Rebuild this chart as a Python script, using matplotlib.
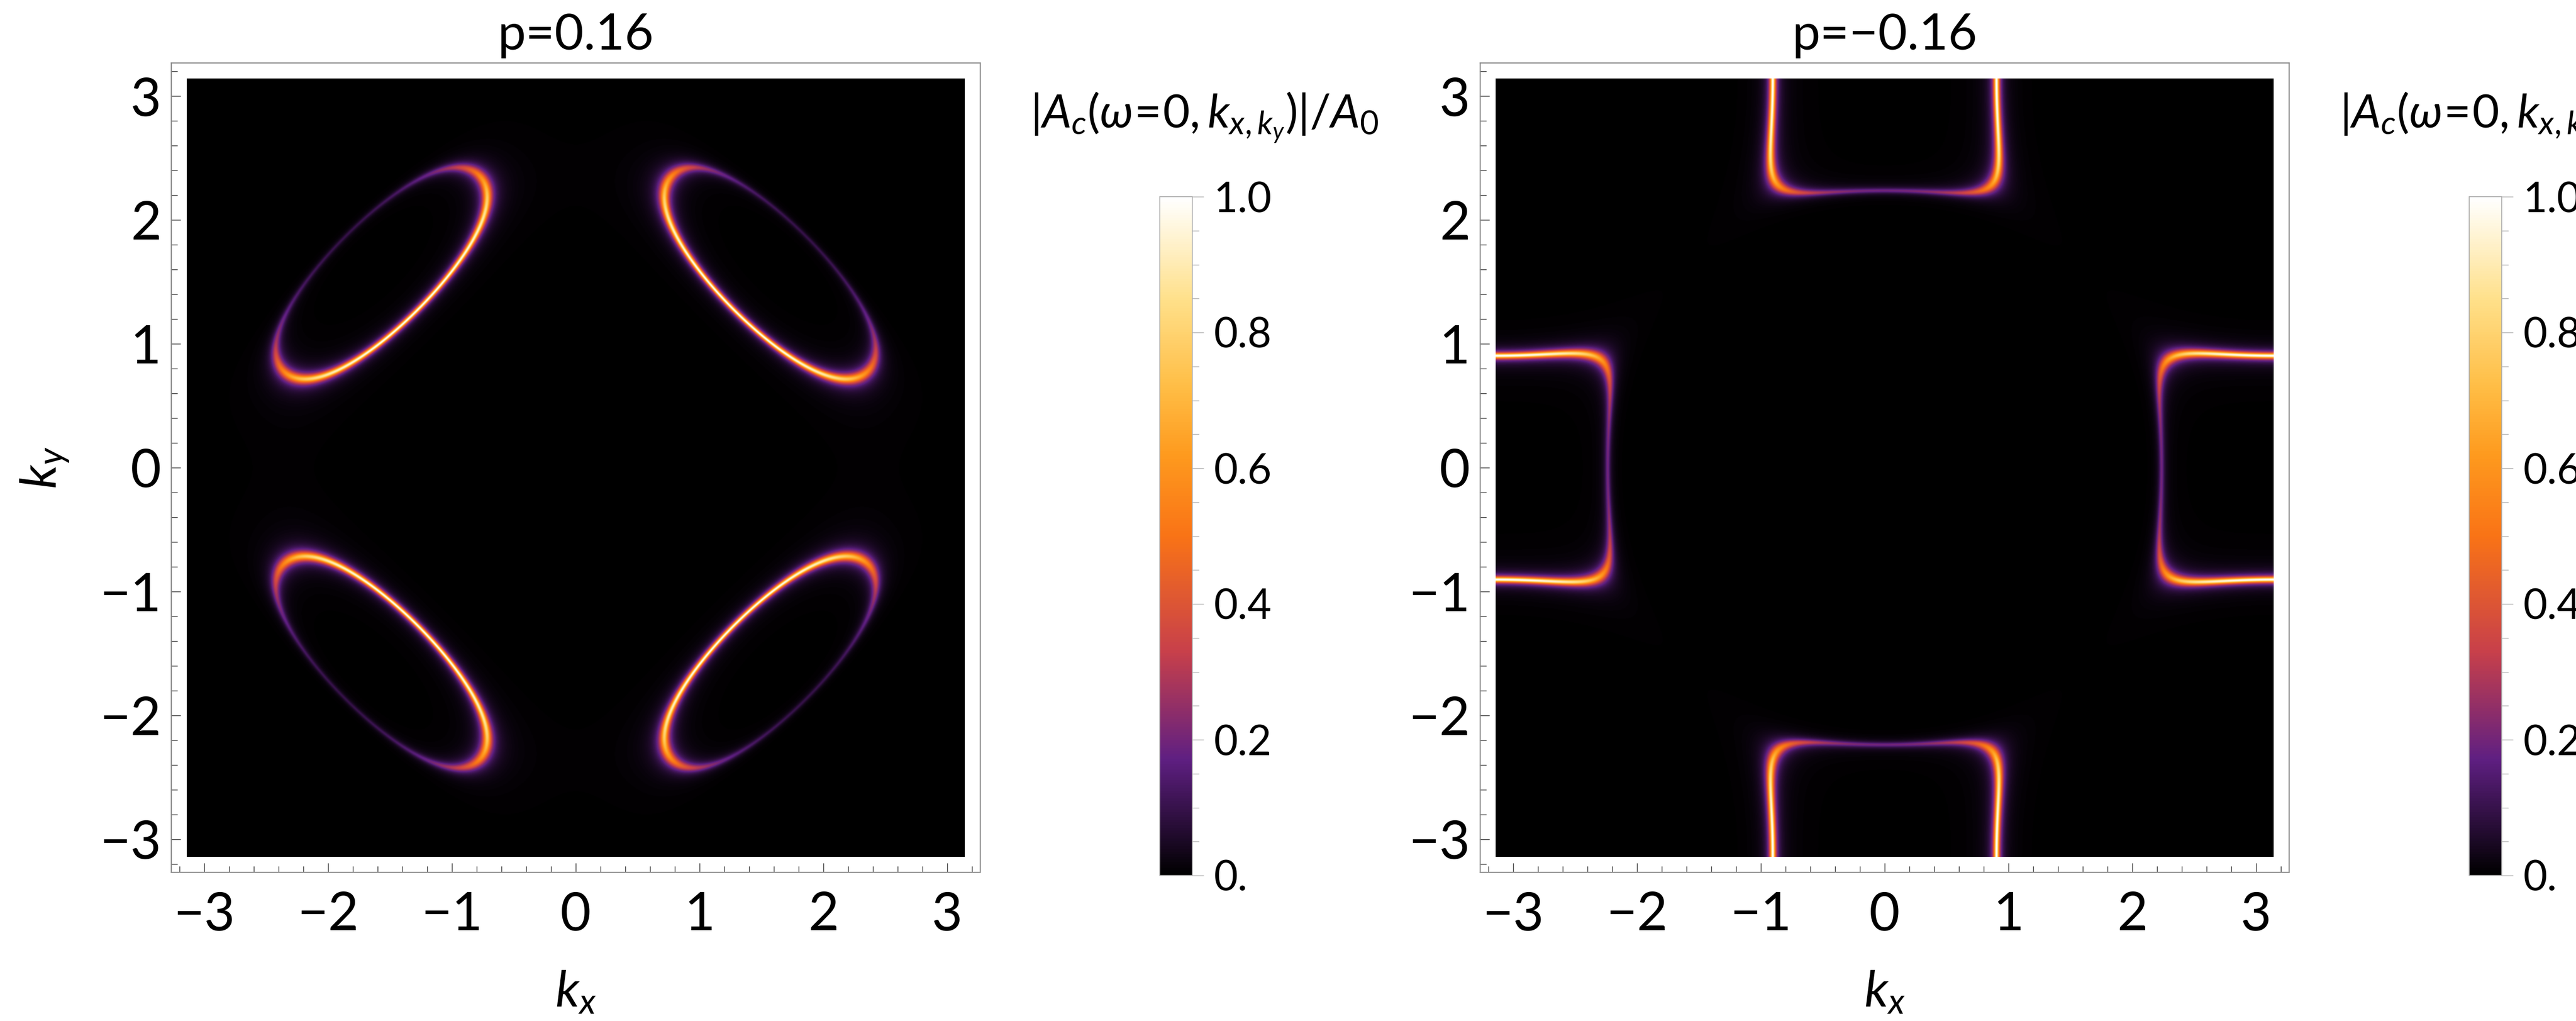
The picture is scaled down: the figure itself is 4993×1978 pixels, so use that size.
import numpy as np
import matplotlib
matplotlib.use("Agg")
import matplotlib.pyplot as plt
from matplotlib.colors import LinearSegmentedColormap
from matplotlib.ticker import MultipleLocator, FixedLocator

plt.rcParams["font.family"] = ["Lato", "DejaVu Sans"]
plt.rcParams["mathtext.fontset"] = "custom"
plt.rcParams["mathtext.rm"] = "Lato"
plt.rcParams["mathtext.it"] = "Lato:italic"

# model: t, t', t'' hoppings, one panel per doping
HOPPING = [1.0, -0.13, 0.09]
DOPING = [0.16, -0.16]
CHEM_POT = [-1.066, 0.683]
HYBRID = [0.80, 0.85]
BROADENING = 0.035
N_K = 1500

# colour scale (Mathematica-like sunset)
CMAP_POS = [0.0, 0.17, 0.33, 0.5, 0.62, 0.72, 0.85, 1.0]
CMAP_RGB = ["#000000", "#5f1f82", "#c8404a", "#f97316", "#fe9a1e",
            "#ffbd45", "#ffe08a", "#ffffff"]

K_TICKS = [-3, -2, -1, 0, 1, 2, 3]
CBAR_TICKS = [0.0, 0.2, 0.4, 0.6, 0.8, 1.0]
CBAR_LABELS = ["0.", "0.2", "0.4", "0.6", "0.8", "1.0"]
CBAR_LABEL = r"$|A_c(\omega\!=\!0,k_{x,k_y})|/A_0$"

W, H = 4993, 1978
AX_LEFT = [332, 2869]
CB_LEFT = [2248, 4786]


def spectral(mu, phi):
    t, tp, tpp = HOPPING
    k = np.linspace(-np.pi, np.pi, N_K)
    kx, ky = np.meshgrid(k, k)
    cx, cy = np.cos(kx), np.cos(ky)
    a = -2 * t * (cx + cy)
    b = -4 * tp * cx * cy - 2 * tpp * (np.cos(2 * kx) + np.cos(2 * ky)) - mu
    z = 1j * BROADENING
    g = 1.0 / (z - (a + b) - phi ** 2 / (z - (b - a)))
    A = -g.imag / np.pi
    return A / A.max()


cmap = LinearSegmentedColormap.from_list("sunset", list(zip(CMAP_POS, CMAP_RGB)))

fig = plt.figure(figsize=(W / 100, H / 100), dpi=100)
frame_col = "#8c8c8c"
pad = np.pi * 0.04

for i, p in enumerate(DOPING):
    x0 = AX_LEFT[i] / W
    ax = fig.add_axes([x0, (H - 1690) / H, 1568 / W, 1568 / H])
    A = spectral(CHEM_POT[i], HYBRID[i])
    im = ax.imshow(A, origin="lower", extent=[-np.pi, np.pi, -np.pi, np.pi],
                   cmap=cmap, vmin=0, vmax=1, interpolation="bilinear",
                   aspect="auto")
    ax.set_xlim(-np.pi - pad, np.pi + pad)
    ax.set_ylim(-np.pi - pad, np.pi + pad)
    for s in ax.spines.values():
        s.set_color(frame_col)
        s.set_linewidth(1.6)
    ax.xaxis.set_major_locator(FixedLocator(K_TICKS))
    ax.yaxis.set_major_locator(FixedLocator(K_TICKS))
    ax.xaxis.set_minor_locator(MultipleLocator(0.2))
    ax.yaxis.set_minor_locator(MultipleLocator(0.2))
    ax.tick_params(which="both", direction="in", top=False, right=False,
                   color="#333333", width=1.0)
    ax.tick_params(which="major", length=13, labelsize=74)
    ax.tick_params(which="minor", length=8.5)
    ax.tick_params(axis="x", pad=26)
    ax.tick_params(axis="y", pad=14)

    title = f"p={p:g}".replace("-", "\u2212")
    ax.text(0.5, 1.034, title, transform=ax.transAxes, ha="center",
            va="center", fontsize=70)
    ax.text(0.5, -0.148, r"$k_x$", transform=ax.transAxes, ha="center",
            va="center", fontsize=70)
    if i == 0:
        ax.text(-0.156, 0.5, r"$k_y$", transform=ax.transAxes, ha="center",
                va="center", fontsize=70, rotation=90)

    cax = fig.add_axes([CB_LEFT[i] / W, (H - 1696) / H, 63 / W, (1696 - 381) / H])
    cb = fig.colorbar(im, cax=cax)
    cb.outline.set_edgecolor("#aaaaaa")
    cb.outline.set_linewidth(1.2)
    cb.set_ticks(CBAR_TICKS)
    cb.set_ticklabels(CBAR_LABELS)
    cax.yaxis.set_minor_locator(MultipleLocator(0.05))
    cax.tick_params(which="both", direction="out", color="#b0b0b0", width=1.0)
    cax.tick_params(which="major", length=16, labelsize=58, pad=14)
    cax.tick_params(which="minor", length=9)

    fig.text((CB_LEFT[i] - 251) / W, 1 - 228 / H, CBAR_LABEL, ha="left",
             va="center", fontsize=65)

fig.savefig("out.png", dpi=100)
